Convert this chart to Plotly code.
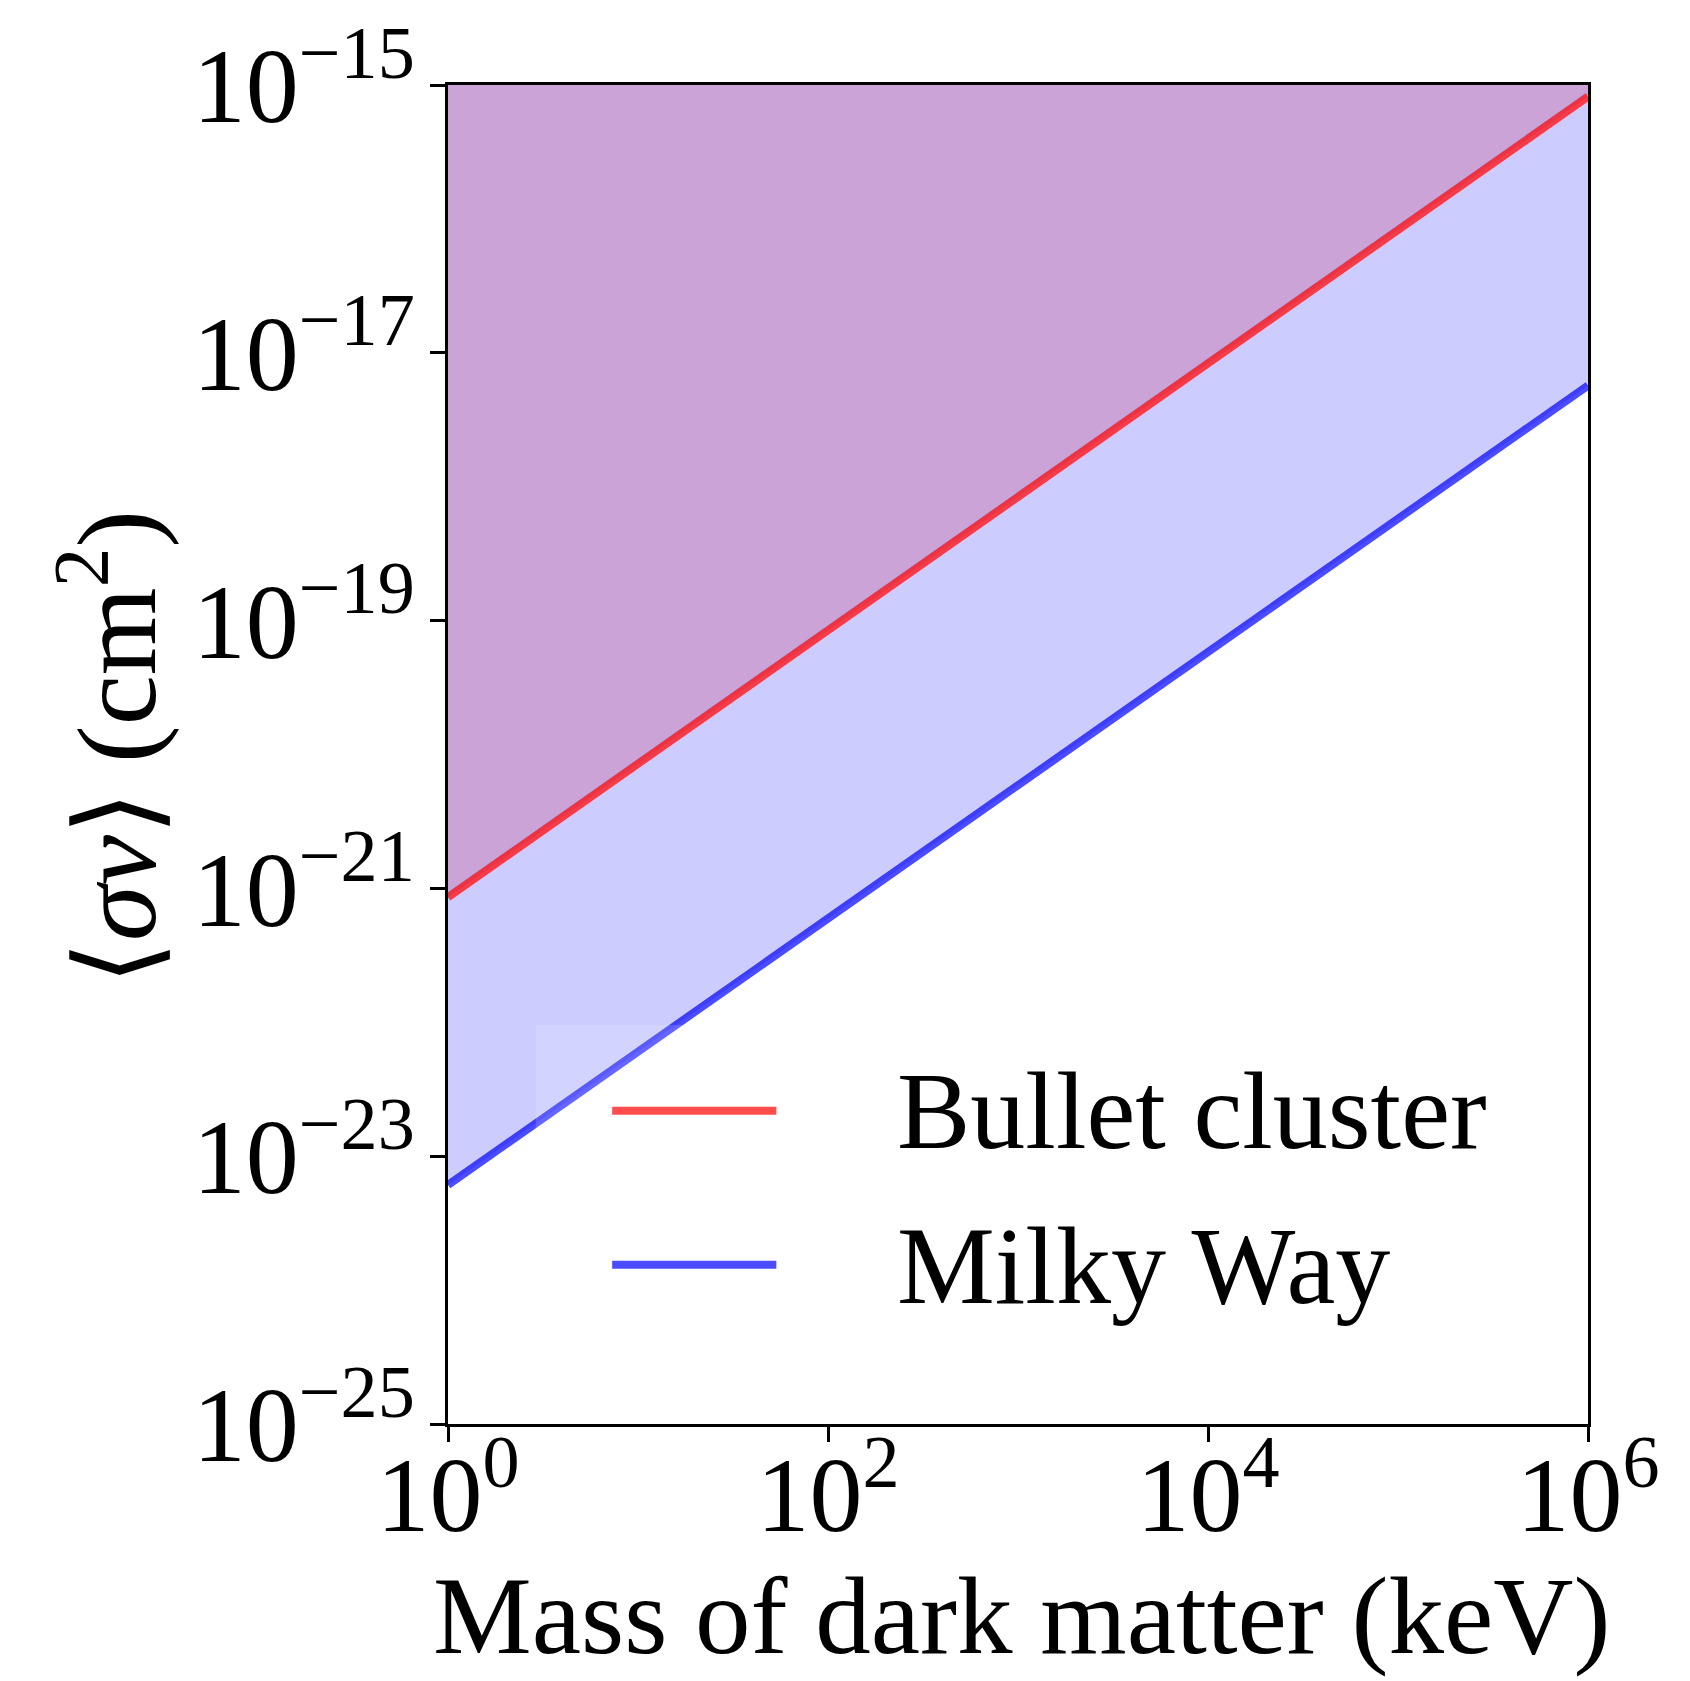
import plotly.graph_objects as go

# ---- data ----
mass_kev = [1.0, 1.0e6]
bullet_cluster = [8.6e-22, 8.2e-16]
milky_way = [6.1e-24, 5.7e-18]
y_top = [1e-15, 1e-15]

x_tickvals = [1, 1e2, 1e4, 1e6]
x_ticktext = ["10<sup>0</sup>", "10<sup>2</sup>", "10<sup>4</sup>", "10<sup>6</sup>"]
y_tickvals = [1e-25, 1e-23, 1e-21, 1e-19, 1e-17, 1e-15]
y_ticktext = ["10<sup>\u221225</sup>", "10<sup>\u221223</sup>", "10<sup>\u221221</sup>",
              "10<sup>\u221219</sup>", "10<sup>\u221217</sup>", "10<sup>\u221215</sup>"]

FONT = "Liberation Serif"
RED_LINE = "rgba(255,0,0,0.7)"
BLUE_LINE = "rgba(0,0,255,0.7)"

fig = go.Figure()
# red exclusion fill (from bullet cluster line up to top)
fig.add_trace(go.Scatter(x=mass_kev, y=y_top, mode="lines", line=dict(width=0),
                         showlegend=False, hoverinfo="skip"))
fig.add_trace(go.Scatter(x=mass_kev, y=bullet_cluster, mode="lines", line=dict(width=0),
                         fill="tonexty", fillcolor="rgba(255,0,0,0.2)",
                         showlegend=False, hoverinfo="skip"))
# blue exclusion fill (from milky way line up to top)
fig.add_trace(go.Scatter(x=mass_kev, y=y_top, mode="lines", line=dict(width=0),
                         showlegend=False, hoverinfo="skip"))
fig.add_trace(go.Scatter(x=mass_kev, y=milky_way, mode="lines", line=dict(width=0),
                         fill="tonexty", fillcolor="rgba(0,0,255,0.2)",
                         showlegend=False, hoverinfo="skip"))
# lines
fig.add_trace(go.Scatter(x=mass_kev, y=bullet_cluster, mode="lines",
                         line=dict(color=RED_LINE, width=8), name="Bullet cluster",
                         showlegend=False))
fig.add_trace(go.Scatter(x=mass_kev, y=milky_way, mode="lines",
                         line=dict(color=BLUE_LINE, width=8), name="Milky Way",
                         showlegend=False))

axis_common = dict(
    showline=True, linecolor="black", linewidth=3, mirror=True,
    ticks="outside", ticklen=15, tickwidth=2.5, tickcolor="black",
    showgrid=False, zeroline=False,
    tickfont=dict(family=FONT, size=106, color="black"),
)

fig.update_xaxes(type="log", range=[0, 6], tickvals=x_tickvals, ticktext=x_ticktext,
                 ticklabelstandoff=-38, **axis_common)
fig.update_yaxes(type="log", range=[-25, -15], tickvals=y_tickvals, ticktext=y_ticktext,
                 ticklabelstandoff=-6, **axis_common)

# manual legend (matplotlib style)
shapes = [
    dict(type="rect", xref="paper", yref="paper", x0=0.077, x1=0.955, y0=0.035, y1=0.298,
         fillcolor="rgba(255,255,255,0.15)", line=dict(width=0), layer="above"),
    dict(type="line", xref="paper", yref="paper", x0=0.144, x1=0.288, y0=0.234, y1=0.234,
         line=dict(color=RED_LINE, width=8), layer="above"),
    dict(type="line", xref="paper", yref="paper", x0=0.144, x1=0.288, y0=0.119, y1=0.119,
         line=dict(color=BLUE_LINE, width=8), layer="above"),
]

annotations = [
    dict(text="Bullet cluster", xref="paper", yref="paper", x=0.392, y=0.2335,
         xanchor="left", yanchor="middle", showarrow=False,
         font=dict(family=FONT, size=110, color="black")),
    dict(text="Milky Way", xref="paper", yref="paper", x=0.392, y=0.1180,
         xanchor="left", yanchor="middle", showarrow=False,
         font=dict(family=FONT, size=110, color="black")),
    dict(text="Mass of dark matter (keV)", xref="paper", yref="paper", x=0.503, y=-0.143,
         xanchor="center", yanchor="middle", showarrow=False,
         font=dict(family=FONT, size=111, color="black")),
    dict(text="\u27e8<i>\u03c3v</i>\u27e9 (cm<sup>2</sup>)", xref="paper", yref="paper",
         x=-0.298, y=0.505, xanchor="center", yanchor="middle", textangle=-90,
         showarrow=False, font=dict(family=FONT, size=113, color="black")),
]

fig.update_layout(
    width=1690, height=1681,
    margin=dict(l=448, r=102, t=74, b=257),
    plot_bgcolor="white", paper_bgcolor="white",
    shapes=shapes, annotations=annotations,
    showlegend=False,
)

fig.write_html("out.html")
